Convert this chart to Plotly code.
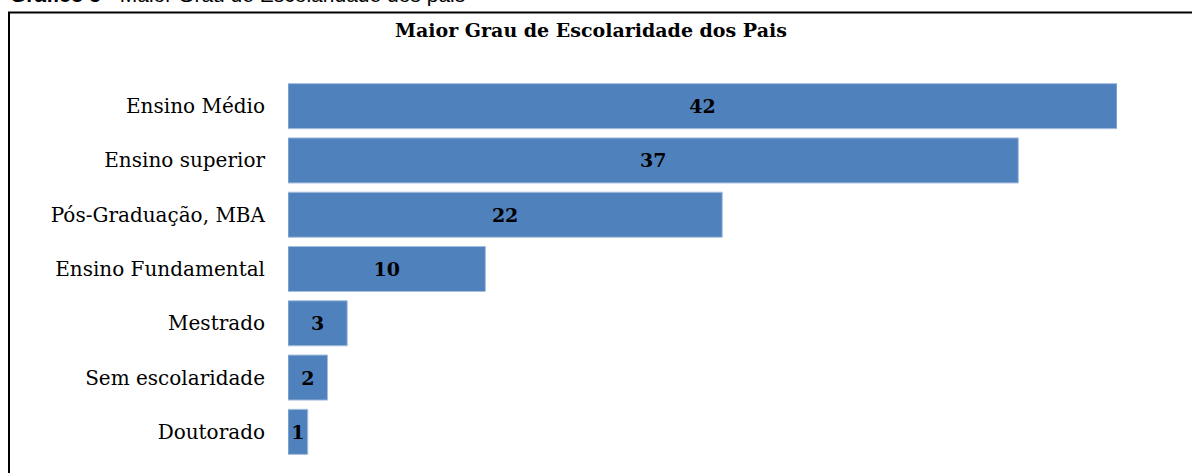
import plotly.graph_objects as go

categories = ["Ensino Médio", "Ensino superior", "Pós-Graduação, MBA", "Ensino Fundamental",
              "Mestrado", "Sem escolaridade", "Doutorado"]
values = [42, 37, 22, 10, 3, 2, 1]

W, H = 1192, 473
L, R, T, B = 288, 75, 79, 14
pw, ph = W - L - R, H - T - B

def px(x):
    return (x - L) / pw

def py(y):
    return (H - B - y) / ph

fig = go.Figure(go.Bar(
    x=values, y=categories, orientation="h",
    marker=dict(color="#4F81BD", line=dict(color="#A7BFDE", width=1)),
    text=["<b>%d</b>" % v for v in values], textposition="inside", insidetextanchor="middle",
    constraintext="none", cliponaxis=False,
    textfont=dict(family="DejaVu Serif", size=19, color="#000000"),
    width=0.83,
))

fig.update_layout(
    width=W, height=H, margin=dict(l=L, r=R, t=T, b=B),
    paper_bgcolor="white", plot_bgcolor="white", showlegend=False,
    font=dict(family="DejaVu Serif", color="#000000"),
    xaxis=dict(range=[0, 42], visible=False, fixedrange=True),
    yaxis=dict(autorange="reversed", showgrid=False, zeroline=False,
               showline=False, ticks="", fixedrange=True,
               tickfont=dict(family="DejaVu Serif", size=20, color="#000000"),
               ticklabelstandoff=22),
    shapes=[dict(type="rect", xref="paper", yref="paper",
                 x0=px(9), x1=px(1210), y0=py(490), y1=py(12.5),
                 line=dict(color="#000000", width=2), fillcolor="rgba(0,0,0,0)", layer="above")],
    annotations=[
        dict(text="<b>Maior Grau de Escolaridade dos Pais</b>", xref="paper", yref="paper",
             x=px(591), y=py(30), xanchor="center", yanchor="middle", showarrow=False,
             font=dict(family="DejaVu Serif", size=19, color="#000000")),
        dict(text="<b>Gráfico 5</b> - Maior Grau de Escolaridade dos pais", xref="paper", yref="paper",
             x=px(8), y=py(8), xanchor="left", yanchor="bottom", showarrow=False,
             font=dict(family="Liberation Sans", size=21, color="#000000")),
    ],
)

fig.write_html("out.html", config={"displayModeBar": False},
               post_script="document.body.style.margin='0';")
